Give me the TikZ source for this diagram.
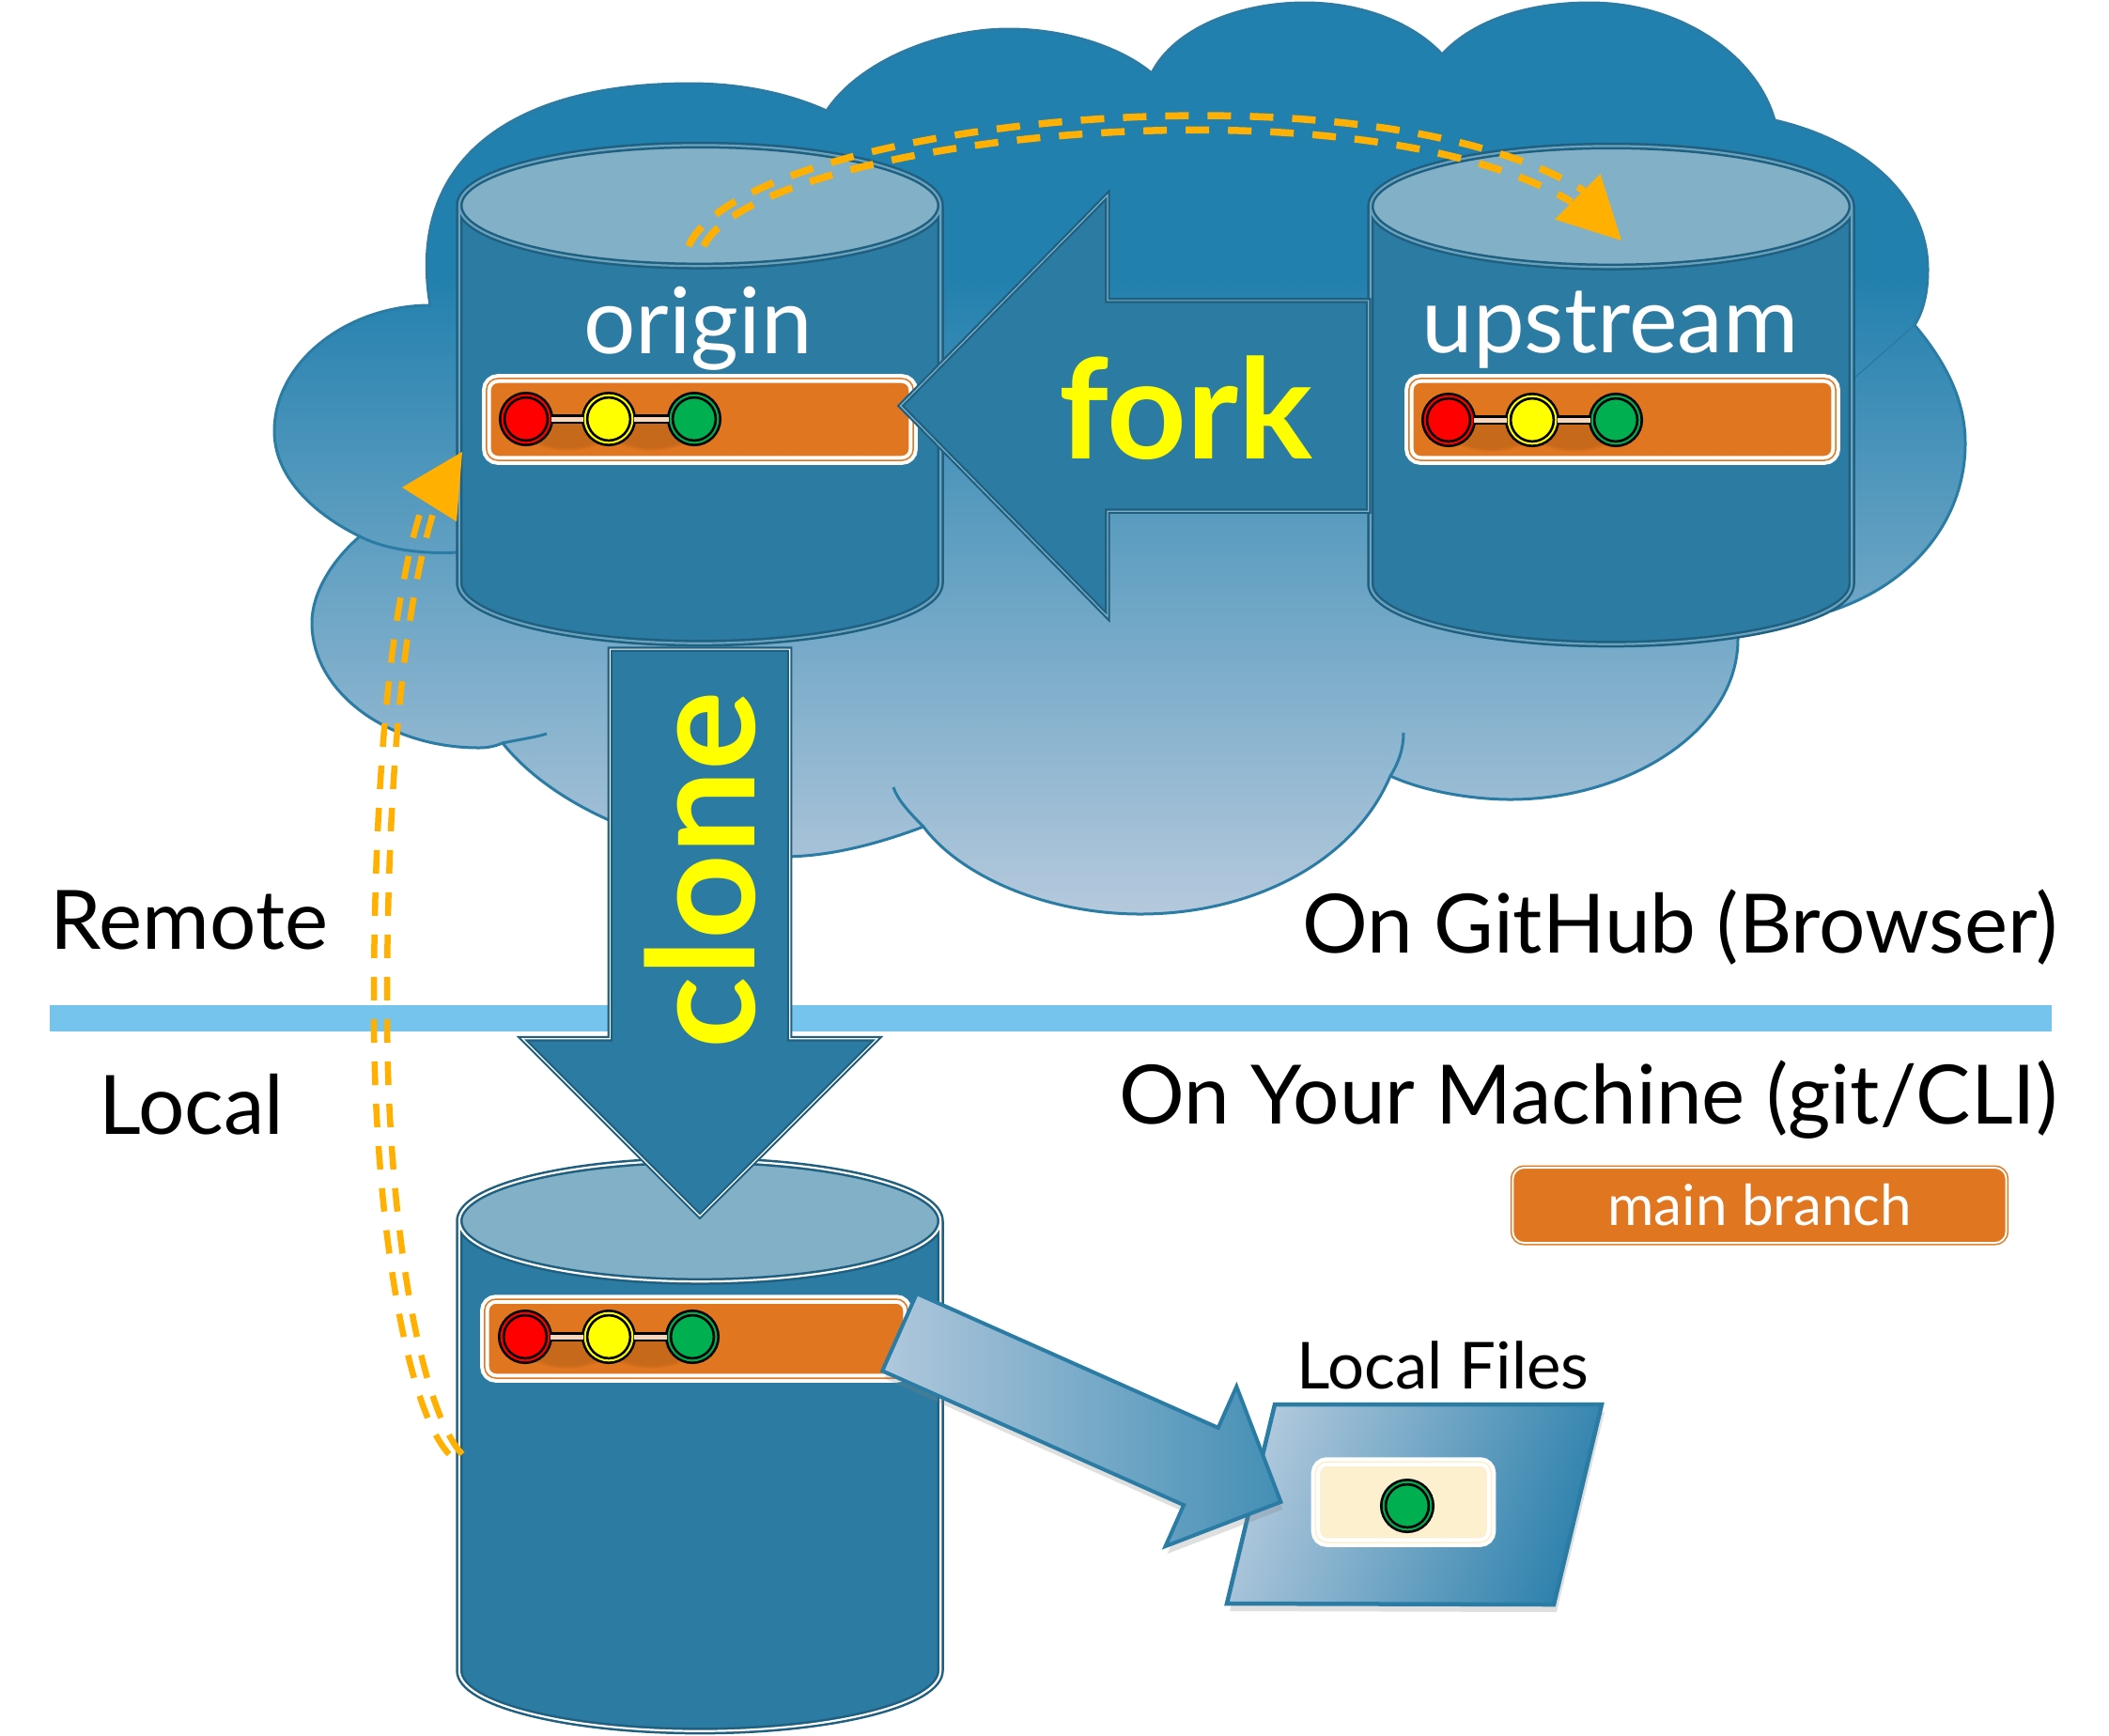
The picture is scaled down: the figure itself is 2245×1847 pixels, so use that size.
\documentclass[tikz,border=0pt]{standalone}
\usepackage{fontspec}
\setmainfont{Lato}
\usepackage{tikz}
\usetikzlibrary{arrows.meta,positioning,shapes.geometric,shapes.arrows,shadows,fadings}
\definecolor{cloudtop}{HTML}{2280AE}
\definecolor{cloudlow}{HTML}{B5C9DC}
\definecolor{cloudline}{HTML}{2A7CA5}
\definecolor{cylbody}{HTML}{2C7BA2}
\definecolor{cylend}{HTML}{82B0C7}
\definecolor{cyledge}{HTML}{1F5F80}
\definecolor{branchfill}{HTML}{E0761F}
\definecolor{fetchcol}{HTML}{FFB000}
\definecolor{rulecol}{HTML}{75C4EE}
\definecolor{filesfill}{HTML}{FDF0CF}
\definecolor{commitred}{HTML}{FF0000}
\definecolor{commityel}{HTML}{FFFF00}
\definecolor{commitgrn}{HTML}{00B050}
\definecolor{filesdeep}{HTML}{2F82AD}
\definecolor{fileslight}{HTML}{B0C8DC}
\pgfdeclareverticalshading{cloudfade}{100bp}{color(0bp)=(cloudlow); color(25bp)=(cloudlow); color(60bp)=(cloudtop); color(100bp)=(cloudtop)}
\tikzset{
    repo/.style={cylinder, shape border rotate=90, draw=cyledge, line width=0.025cm, double=#1, double distance=0.022cm, inner sep=0.117cm, shape aspect=5.5, cylinder uses custom fill, cylinder body fill=cylbody, cylinder end fill=cylend, minimum width=5.12cm},
    branchbar/.style={rectangle, rounded corners=0.12cm, fill=branchfill, draw=white, line width=0.04cm, double=branchfill, double distance=0.015cm, minimum width=4.54cm, minimum height=0.87cm, inner sep=0pt},
    commit/.style={circle, draw=black, line width=0.027cm, double=#1, double distance=0.02cm, fill=#1, minimum size=0.506cm, inner sep=0pt},
    commitlink/.style={draw=black, line width=0.027cm, double=branchfill!30!white, double distance=0.05cm},
    linkshadow/.style={fill=black, opacity=0.11, path fading=circle with fuzzy edge 20 percent},
    blockarrow/.style={single arrow, fill=cylbody, draw=cyledge, line width=0.022cm, double=#1, double distance=0.012cm, inner xsep=0pt, anchor=tip},
    fetchdash/.style={draw=fetchcol, line width=#1, dash pattern=on 0.25cm off 0.2cm},
    fetchhead/.style={draw=fetchcol, line width=0.02cm, -{Triangle[length=0.66cm,width=0.68cm,fill=fetchcol]}},
    sidelabel/.style={font=\fontsize{24.8}{28}\selectfont, inner sep=0pt},
    repolabel/.style={font=\fontsize{27.8}{30}\selectfont, text=white, inner sep=0pt},
    verbarrow/.style={font=\fontsize{#1}{48}\bfseries\selectfont, text=commityel, inner sep=0pt},
}
\begin{document}
\begin{tikzpicture}[x=0.01cm, y=-0.01cm]
        \useasboundingbox (0,0) rectangle (2245,1847);
        % cloud
        \draw[shading=cloudfade, draw=cloudline, line width=0.03cm] (458,325) .. controls (432,170) and (545,89) .. (735,89) .. controls (790,89) and (840,100) .. (880,118)
            .. controls (915,65) and (1000,31) .. (1074,31) .. controls (1130,31) and (1190,48) .. (1226,78)
            .. controls (1250,30) and (1320,3) .. (1389,3) .. controls (1450,3) and (1505,25) .. (1535,58)
            .. controls (1570,20) and (1630,3) .. (1692,3) .. controls (1790,3) and (1870,60) .. (1889,128)
            .. controls (1985,150) and (2052,210) .. (2052,287) .. controls (2052,310) and (2048,330) .. (2038,346)
            .. controls (2075,390) and (2092,430) .. (2092,472) .. controls (2092,550) and (2040,620) .. (1950,650) -- (1850,650) -- (1850,680)
            .. controls (1850,780) and (1730,851) .. (1608,851) .. controls (1560,851) and (1510,840) .. (1480,826)
            .. controls (1440,920) and (1330,973) .. (1214,973) .. controls (1110,973) and (1020,930) .. (983,880)
            .. controls (930,900) and (880,912) .. (832,912) .. controls (710,912) and (590,860) .. (535,791)
            .. controls (525,795) and (518,796) .. (510,796) .. controls (410,796) and (332,735) .. (332,663) .. controls (332,630) and (355,595) .. (383,571)
            .. controls (330,545) and (292,505) .. (292,459) .. controls (292,385) and (370,325) .. (458,325) -- cycle;
        \draw[cloudline, line width=0.03cm] (383,571) .. controls (410,585) and (450,590) .. (487,588);
        \draw[cloudline, line width=0.03cm] (535,791) .. controls (548,788) and (570,785) .. (582,781);
        \draw[cloudline, line width=0.03cm] (983,880) .. controls (965,862) and (955,850) .. (951,838);
        \draw[cloudline, line width=0.03cm] (1480,826) .. controls (1490,810) and (1494,795) .. (1494,780);
        \draw[cloudline, line width=0.015cm] (2038,346) -- (1971,405);

        % divider
        \fill[rulecol] (53,1070) rectangle (2184,1098);

        % repositories
        \node(originrepo) [repo=cylbody!70!white, minimum height=5.3cm] at (745,462) {};
        \node(upstreamrepo) [repo=cylbody!70!white, minimum height=5.3cm] at (1715,463) {};
        \node(localrepo) [repo=white, minimum height=6.07cm] at (745,1581.5) {};

        \node(originlabel) [repolabel] at (743,350) {origin};
        \node(upstreamlabel) [repolabel] at (1714,351) {upstream};

        % branches
        \node(originbar) [branchbar] at (745,446.5) {};
        \node(upstreambar) [branchbar] at (1727,446.5) {};
        \node(localbar) [branchbar, minimum width=4.5cm, minimum height=0.84cm] at (741,1425) {};

        \foreach \barname/\xa/\xb/\xc/\ybar in {origin/560/648/739/446, upstream/1542/1631/1720/447, local/559/648/737/1423} {
            \fill[linkshadow] ({(\xa+\xb)/2},{\ybar+14}) ellipse (46 and 20);
            \fill[linkshadow] ({(\xb+\xc)/2},{\ybar+14}) ellipse (46 and 20);
            \node(\barname c1) [commit=commitred] at (\xa,\ybar) {};
            \node(\barname c2) [commit=commityel] at (\xb,\ybar) {};
            \node(\barname c3) [commit=commitgrn] at (\xc,\ybar) {};
            \draw[commitlink] (\barname c1) -- (\barname c2);
            \draw[commitlink] (\barname c2) -- (\barname c3);
        }

        % fork and clone
        \node(forkarrow) [blockarrow=cylbody!60!white, rotate=180, inner ysep=1.11cm, minimum height=4.98cm, single arrow tip angle=91, single arrow head extend=1.12cm] at (957,432) {};
        \node(forklabel) [verbarrow=42] at (1262,434) {fork};
        \node(clonearrow) [blockarrow=white, rotate=270, inner ysep=0.945cm, minimum height=6.03cm, single arrow tip angle=90, single arrow head extend=0.93cm] at (745,1296) {};
        \node(clonelabel) [verbarrow=45, rotate=90] at (745,926) {clone};

        % labels
        \node(remotelabel) [sidelabel, anchor=base west] at (53,1010) {Remote};
        \node(locallabel) [sidelabel, anchor=base west] at (105,1207) {Local};
        \node(githublabel) [sidelabel, anchor=base east] at (2191,1014) {On GitHub (Browser)};
        \node(machinelabel) [sidelabel, anchor=base east] at (2191,1196) {On Your Machine (git/CLI)};

        % legend
        \node(mainbranch) [rectangle, rounded corners=0.12cm, fill=branchfill, draw=branchfill, line width=0.015cm, double=white, double distance=0.02cm, minimum width=5.25cm, minimum height=0.8cm, text=white, font=\fontsize{17.1}{24}\selectfont, inner sep=0pt] at (1873,1283) {main branch};

        % local files
        \node(fileslabel) [font=\fontsize{19.6}{24}\selectfont, inner sep=0pt] at (1536,1453) {Local Files};
        \draw[left color=fileslight, right color=filesdeep, shading angle=70, draw=cloudline, line width=0.045cm, drop shadow={shadow xshift=0.03cm, shadow yshift=-0.08cm, opacity=0.25}] (1357,1495) -- (1705,1495) -- (1654,1708) -- (1306,1707) -- cycle;
        \node(filesbox) [branchbar, fill=filesfill, double=filesfill, minimum width=1.87cm, minimum height=0.86cm] at (1494,1599) {};
        \node(filescommit) [commit=commitgrn] at (1498,1603) {};

        % checkout
        \node(checkoutarrow) [single arrow, anchor=tip, draw=cloudline, line width=0.04cm, left color=fileslight, right color=filesdeep!90!white, rotate=-24, inner xsep=0pt, inner ysep=0.43cm, minimum height=4.44cm, single arrow tip angle=90, single arrow head extend=0.48cm, drop shadow={shadow xshift=0.02cm, shadow yshift=-0.08cm, opacity=0.25}] at (1366,1600) {};

        % dashed pushes
        \coordinate (forkbase) at (1679,209);
        \coordinate (forktip) at (1726,256);
        \draw[fetchdash=0.075cm] (733,262) .. controls (790,130) and (1450,58) .. (1686,203);
        \draw[fetchdash=0.075cm] (749,262) .. controls (805,147) and (1440,76) .. (1673,215);
        \draw[fetchhead] (forkbase) -- (forktip);

        \coordinate (pushbase) at (457,537);
        \coordinate (pushtip) at (492,481);
        \foreach \shiftpush in {-7,7} {
            \draw[fetchdash=0.065cm, xshift=\shiftpush*0.01cm] (485,1548) .. controls (440,1500) and (405,1300) .. (405,1074) .. controls (405,850) and (420,650) .. (457,537);
        }
        \draw[fetchhead] (pushbase) -- (pushtip);
    \end{tikzpicture}
\end{document}
